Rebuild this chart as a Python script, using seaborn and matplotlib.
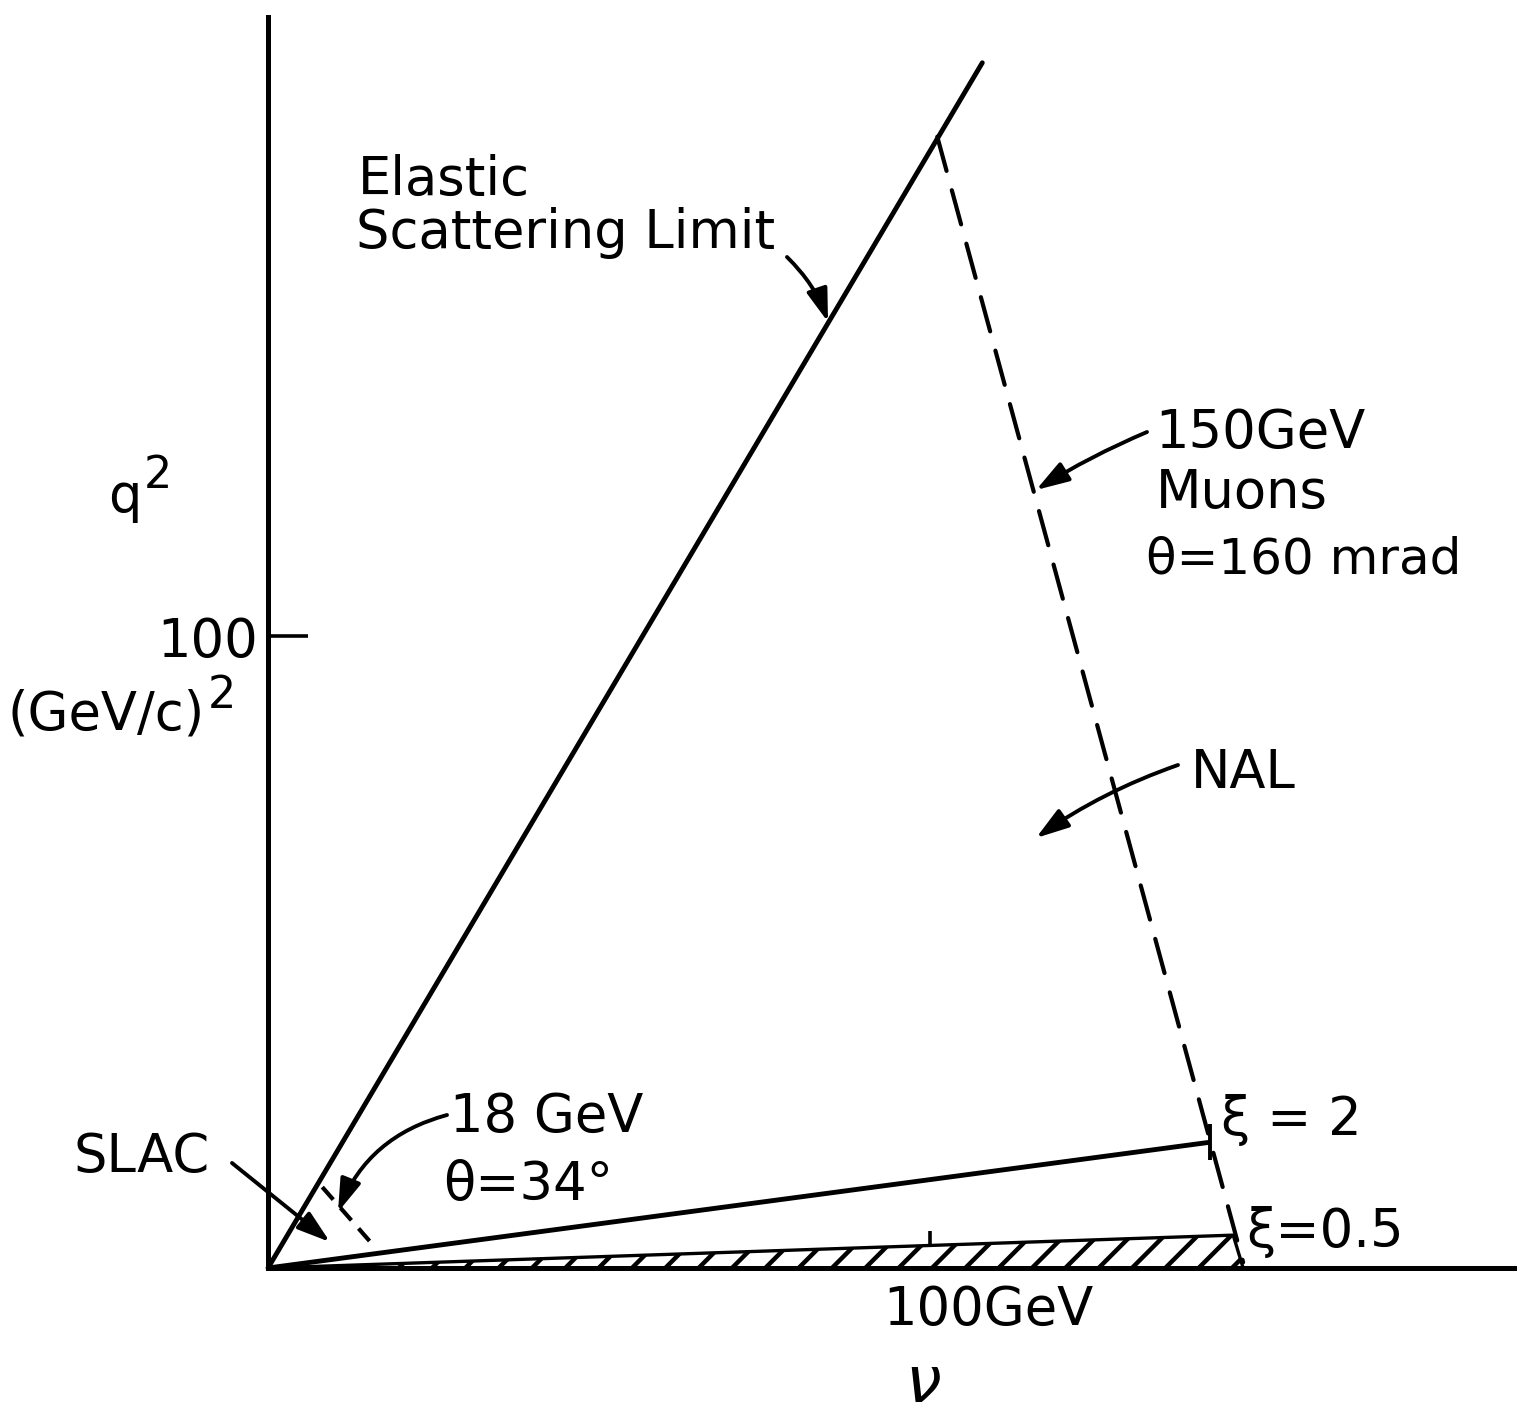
import matplotlib
matplotlib.use('Agg')
import matplotlib.pyplot as plt
import seaborn as sns

# ---------------- data (nu in GeV, q^2 in (GeV/c)^2) ----------------
elastic_nu = [0.0, 107.9]
elastic_q2 = [0.0, 190.7]
muon150_nu = [101.1, 147.3]
muon150_q2 = [179.0, 0.9]
xi2_nu = [0.0, 142.3]
xi2_q2 = [0.0, 19.9]
xi05_nu = [0.0, 145.8, 147.3]
xi05_q2 = [0.0, 5.2, 0.0]
slac_nu = [8.2, 15.9]
slac_q2 = [12.8, 3.6]
x_ticks = [100]
y_ticks = [100]
y_tick_labels = ['100']
y_axis_top = 198.0

# ---------------- style ----------------
sns.set_style('white')
plt.rcParams['font.family'] = ['DejaVu Sans']
plt.rcParams['hatch.linewidth'] = 3.2

W, H = 1517, 1412
fig = plt.figure(figsize=(W / 100, H / 100), dpi=100)
ax = fig.add_axes([0, 0, 1, 1])

# layout: reference pixel position of the origin and pixel scale
X0, Y0, SX, SY = 268.0, 1268.0, 6.62, 6.32
ax.set_xlim(-X0 / SX, (W - X0) / SX)
ax.set_ylim((Y0 - H) / SY, Y0 / SY)


def P(px, py):
    return ((px - X0) / SX, (Y0 - py) / SY)


LW = 3.5
# hatched xi = 0.5 region
ax.fill_between(xi05_nu, 0, xi05_q2, facecolor='white', edgecolor='black',
                hatch='/', linewidth=2.4, zorder=1)

sns.lineplot(x=elastic_nu, y=elastic_q2, ax=ax, color='black', linewidth=LW,
             solid_capstyle='round', zorder=3)
sns.lineplot(x=xi2_nu, y=xi2_q2, ax=ax, color='black', linewidth=LW, zorder=3)
ax.lines[-1].set_solid_capstyle('butt')
# tick at end of xi=2 line
sns.scatterplot(x=[xi2_nu[-1]], y=[xi2_q2[-1]], ax=ax, marker='|', s=700,
                color='black', linewidth=2.8, zorder=3)
sns.lineplot(x=muon150_nu, y=muon150_q2, ax=ax, color='black', linewidth=3.0,
             zorder=3)
ax.lines[-1].set_dashes([8.5, 4.8])
ax.lines[-1].set_dash_capstyle('round')
sns.lineplot(x=slac_nu, y=slac_q2, ax=ax, color='black', linewidth=3.0,
             zorder=3)
ax.lines[-1].set_dashes([4.0, 2.6])

# ---------------- axes ----------------
for s in ['top', 'right']:
    ax.spines[s].set_visible(False)
ax.spines['left'].set_position(('data', 0))
ax.spines['bottom'].set_position(('data', 0))
ax.spines['left'].set_bounds(0, y_axis_top)
ax.spines['bottom'].set_bounds(0, (W - X0) / SX)
for s in ['left', 'bottom']:
    ax.spines[s].set_linewidth(3.6)
    ax.spines[s].set_color('black')
    ax.spines[s].set_zorder(4)
ax.set_yticks(y_ticks)
ax.set_yticklabels(y_tick_labels)
ax.set_xticks(x_ticks)
ax.set_xticklabels([''])
ax.tick_params(axis='y', direction='in', length=29, width=2.6, pad=7,
               labelsize=38, colors='black', left=True)
ax.tick_params(axis='x', direction='in', length=27, width=2.6,
               colors='black', bottom=True)
ax.set_facecolor('white')
fig.patch.set_facecolor('white')

FS = 38


def label(s, px, py, fs=FS, **kw):
    ax.text(*P(px, py), s, ha='left', va='baseline', fontsize=fs,
            color='black', **kw)


label('Elastic', 358, 195)
label('Scattering Limit', 356, 248)
label('q', 108, 512)
label('2', 144, 488, fs=32)
label('(GeV/c)', 8, 730)
label('2', 208, 708, fs=32)
label('150GeV', 1155, 448)
label('Muons', 1156, 508)
label('θ=160 mrad', 1146, 573, fs=36)
label('NAL', 1191, 788)
label('ξ = 2', 1221, 1135)
label('ξ=0.5', 1246, 1247)
label('18 GeV', 450, 1132)
label('θ=34°', 443, 1200)
label('SLAC', 73, 1172)
label('100GeV', 883, 1325)
label('ν', 905, 1402, fs=46, style='italic')


def arrow(start, tip, rad):
    ax.annotate('', xy=P(*tip), xytext=P(*start),
                arrowprops=dict(arrowstyle='-|>,head_length=0.5,head_width=0.16',
                                mutation_scale=40, lw=2.8, color='black',
                                shrinkA=0, shrinkB=0,
                                connectionstyle=f'arc3,rad={rad}'),
                zorder=5)


arrow((787, 257), (828, 322), -0.12)
arrow((1147, 432), (1036, 490), 0.04)
arrow((1178, 765), (1036, 838), 0.07)
arrow((447, 1115), (338, 1212), 0.25)
arrow((232, 1163), (330, 1242), 0.0)

fig.savefig('out.png', dpi=100, facecolor='white')
